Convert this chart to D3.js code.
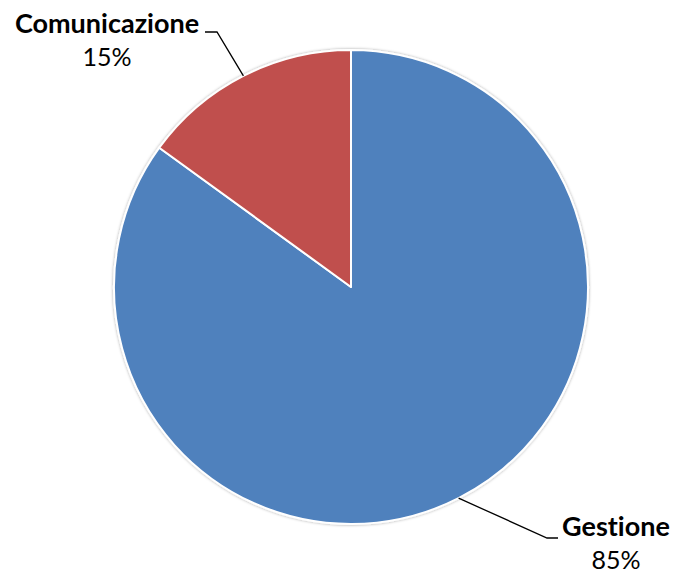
<!DOCTYPE html>
<html>
<head>
<meta charset="utf-8">
<script src="https://cdn.jsdelivr.net/npm/d3@7"></script>
<style>
  html, body { margin: 0; padding: 0; background: #fff; }
  svg { display: block; }
  text { font-family: Lato, "Open Sans", sans-serif; fill: #000; font-variant-ligatures: none; font-feature-settings: "liga" 0, "dlig" 0; }
</style>
</head>
<body>
<div id="chart"></div>
<script>
// chart data
const categories = ['Gestione', 'Comunicazione'];
const values = [85, 15];
const colors = ['#4F81BD', '#C0504D'];

const width = 673, height = 575;
const cx = 351, cy = 287, radius = 237;

// where each label block sits (name baseline, anchor point of leader elbow)
const labelLayout = {
  Gestione: { x: 616, y: 536, elbowX: 547, elbowY: 538, endX: 558 },
  Comunicazione: { x: 107, y: 33, elbowX: 217, elbowY: 32, endX: 205 }
};

const svg = d3.select('#chart').append('svg')
  .attr('width', width)
  .attr('height', height);

const defs = svg.append('defs');
const shadow = defs.append('filter').attr('id', 'shadow')
  .attr('x', '-10%').attr('y', '-10%').attr('width', '120%').attr('height', '120%');
shadow.append('feDropShadow')
  .attr('dx', 0).attr('dy', 0).attr('stdDeviation', 1.5)
  .attr('flood-color', '#000').attr('flood-opacity', 0.35);

const pie = d3.pie().sort(null).value(d => d.value);
const arc = d3.arc().innerRadius(0).outerRadius(radius);

const data = categories.map((c, i) => ({ name: c, value: values[i], color: colors[i] }));
const arcs = pie(data);
const total = d3.sum(values);

const g = svg.append('g').attr('transform', `translate(${cx},${cy})`);

g.append('g').attr('filter', 'url(#shadow)')
  .selectAll('path')
  .data(arcs)
  .join('path')
  .attr('d', arc)
  .attr('fill', d => d.data.color)
  .attr('stroke', '#fff')
  .attr('stroke-width', 2)
  .attr('stroke-linejoin', 'round');

// leader lines and labels
const outerPoint = d => {
  const a = (d.startAngle + d.endAngle) / 2;
  return [cx + radius * Math.sin(a), cy - radius * Math.cos(a)];
};

const labels = svg.append('g');
arcs.forEach(d => {
  const lay = labelLayout[d.data.name];
  const p = outerPoint(d);
  labels.append('polyline')
    .attr('points', [p, [lay.elbowX, lay.elbowY], [lay.endX, lay.elbowY]].map(q => q.join(',')).join(' '))
    .attr('fill', 'none')
    .attr('stroke', '#000')
    .attr('stroke-width', 1.3);
  labels.append('text')
    .attr('x', lay.x).attr('y', lay.y)
    .attr('text-anchor', 'middle')
    .attr('font-size', 27)
    .attr('font-weight', 'bold')
    .text(d.data.name);
  labels.append('text')
    .attr('x', lay.x).attr('y', lay.y + 33)
    .attr('text-anchor', 'middle')
    .attr('font-size', 25)
    .text(Math.round(d.data.value / total * 100) + '%');
});
</script>
</body>
</html>
